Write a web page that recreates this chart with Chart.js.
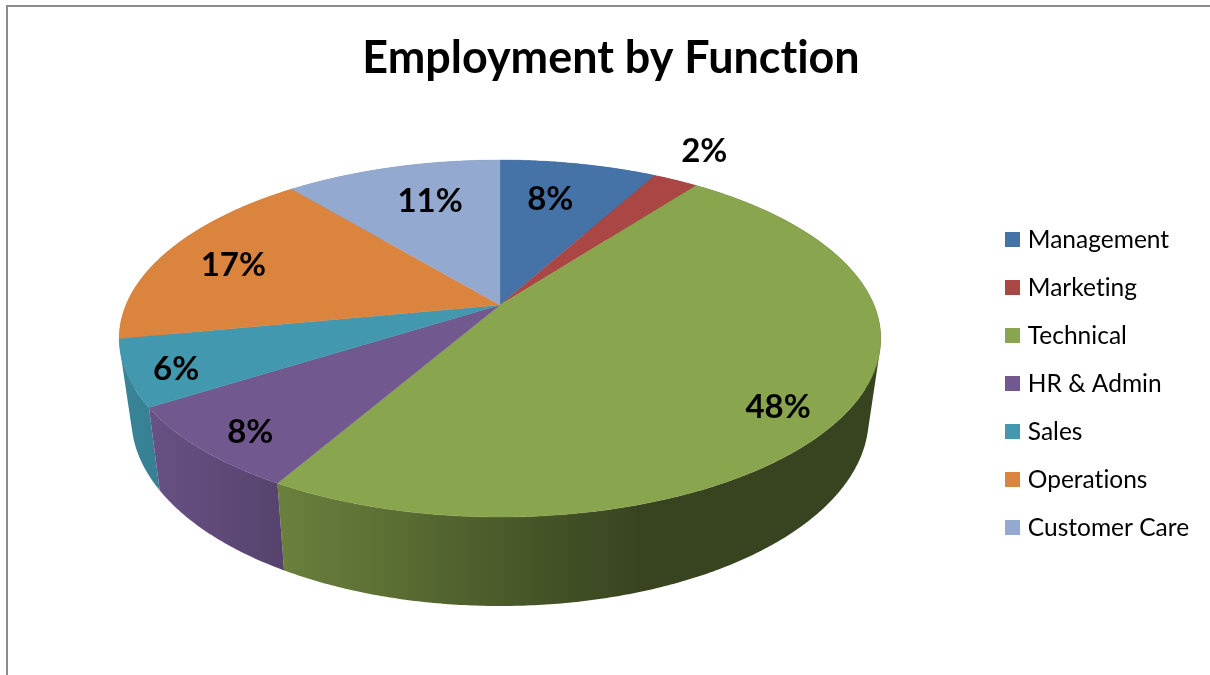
<!DOCTYPE html>
<html><head><meta charset="utf-8">
<style>
html,body{margin:0;padding:0;background:#fff;overflow:hidden;width:1210px;height:675px}
#frame{position:absolute;left:6px;top:5px;width:1300px;height:800px;border-left:2px solid #8c8c8c;border-top:2px solid #8c8c8c}
canvas{position:absolute;left:0;top:0}
</style>
<script src="https://cdn.jsdelivr.net/npm/chart.js@4"></script>
</head><body>
<div id="frame"></div>
<div style="position:absolute;left:0;top:0;width:1210px;height:675px"><canvas id="c" width="1210" height="675"></canvas></div>
<script>
const categories = ["Management","Marketing","Technical","HR & Admin","Sales","Operations","Customer Care"];
const shares = [8, 2.3, 48, 7.7, 6, 17, 11];
const colors = ["#4572A7","#AA4643","#89A54E","#71588F","#4198AF","#DB843D","#93A9CF"];
const titleText = "Employment by Function";

// perspective of the top face and the bottom rim
const TOP = {cx:500, y0:305, a:374, b:172.2, p:0.1877};
const BOT = {cx:500, y0:382.3, a:362, b:181.2, p:0.19};
function project(g, theta, r){
  const u = r*Math.sin(theta), v = r*Math.cos(theta), w = 1 + g.p*v;
  return [g.cx + g.a*u/w, g.y0 - g.b*v/w];
}
// side shading: [x, brightness] stops per slice
const sideShade = [
  [[0,.8],[1210,.8]],
  [[0,.8],[1210,.8]],
  [[276,.78],[400,.66],[500,.55],[640,.41],[881,.41]],
  [[150,.92],[282,.76]],
  [[120,.86],[165,.84]],
  [[0,.8],[1210,.8]],
  [[0,.8],[1210,.8]]
];
// label placement: radius on the face, then a nudge
const labelPlace = [[.6,0,-15],[1.2,-1,-8],[.8,6,20],[.86,2,6],[.88,2,5],[.79,-2,4],[.71,10,-1]];

function shade(hex,k){
  const n=parseInt(hex.slice(1),16);
  return `rgb(${Math.round((n>>16)*k)},${Math.round(((n>>8)&255)*k)},${Math.round((n&255)*k)})`;
}
function addQuad(ctx,p){
  let area=0;
  for(let i=0;i<4;i++){const q=p[(i+1)%4]; area+=p[i][0]*q[1]-q[0]*p[i][1];}
  const pts = area<0 ? p.slice().reverse() : p;
  ctx.moveTo(...pts[0]); pts.slice(1).forEach(q=>ctx.lineTo(...q)); ctx.closePath();
}
const perspectivePie = {
  id:'perspectivePie',
  beforeDraw(chart){ chart.titleBlock.left = 12; chart.titleBlock.right = 1210; chart.ctx.letterSpacing = '0.01px'; },
  beforeDatasetDraw(){ return false; },
  afterDatasetsDraw(chart){
    const ctx = chart.ctx, arcs = chart.getDatasetMeta(0).data, W = chart.width;
    const slices = arcs.map((arc,i)=>({i, a0:arc.startAngle+Math.PI/2, a1:arc.endAngle+Math.PI/2}));
    ctx.save();
    // sides, back to front
    const order = slices.slice().sort((s,t)=>Math.abs((t.a0+t.a1)/2-Math.PI)-Math.abs((s.a0+s.a1)/2-Math.PI));
    for(const s of order){
      const grad = ctx.createLinearGradient(0,0,W,0);
      for(const [x,k] of sideShade[s.i]) grad.addColorStop(x/W, shade(colors[s.i],k));
      ctx.fillStyle = grad;
      const step = Math.PI/360;
      ctx.beginPath();
      for(let t=s.a0; t<s.a1; t+=step){
        const e = Math.min(t+step, s.a1);
        addQuad(ctx,[project(TOP,t,1),project(TOP,e,1),project(BOT,e,1),project(BOT,t,1)]);
      }
      ctx.fill('nonzero');
    }
    // top face
    for(const s of slices){
      ctx.beginPath();
      ctx.moveTo(TOP.cx,TOP.y0);
      const n = Math.max(8,Math.ceil((s.a1-s.a0)/(Math.PI/360)));
      for(let j=0;j<=n;j++) ctx.lineTo(...project(TOP,s.a0+(s.a1-s.a0)*j/n,1));
      ctx.closePath();
      ctx.fillStyle = colors[s.i];
      ctx.fill();
      ctx.strokeStyle = colors[s.i]; ctx.lineWidth = .4; ctx.stroke();
    }
    // labels
    const total = shares.reduce((x,y)=>x+y,0);
    ctx.fillStyle='#000'; ctx.font='bold 33px Lato'; ctx.textAlign='center'; ctx.textBaseline='middle';
    for(const s of slices){
      const [r,dx,dy] = labelPlace[s.i];
      const [x,y] = project(TOP,(s.a0+s.a1)/2,r);
      ctx.fillText(Math.round(shares[s.i]/total*100)+'%', x+dx, y+dy);
    }
    ctx.restore();
  }
};
function swatch(color){
  const cv=document.createElement('canvas'); cv.width=15; cv.height=15;
  const g=cv.getContext('2d'); g.fillStyle=color; g.fillRect(0,0,15,15);
  return cv;
}
new Chart(document.getElementById('c'),{
  type:'pie',
  data:{labels:categories,datasets:[{data:shares,backgroundColor:colors,borderWidth:0}]},
  plugins:[perspectivePie],
  options:{
    responsive:false,animation:false,
    layout:{padding:{left:34,right:11,top:0,bottom:23}},
    plugins:{
      tooltip:{enabled:false},
      title:{display:true,text:titleText,fullSize:true,color:'#000',font:{family:'Lato',size:44.9,weight:'bold'},padding:{top:32,bottom:30}},
      legend:{position:'right',fullSize:false,labels:{
        font:{family:'Lato',size:24.5},color:'#000',boxWidth:6,boxHeight:15,padding:23.5,usePointStyle:true,
        generateLabels(chart){
          return Chart.overrides.pie.plugins.legend.labels.generateLabels(chart).map((l,i)=>({...l,pointStyle:swatch(colors[i]),lineWidth:0}));
        }
      }}
    }
  }
});
</script>
</body></html>
